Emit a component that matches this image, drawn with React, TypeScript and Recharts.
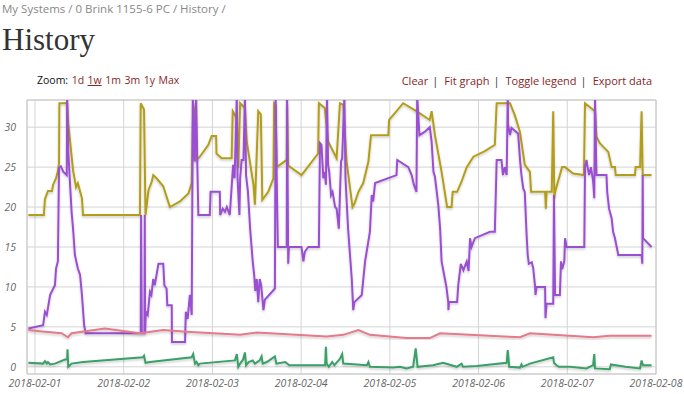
import { CartesianGrid, Line, LineChart, ReferenceArea, XAxis, YAxis } from 'recharts'

// hours since 2018-02-01 00:00, value
const supplyTemp: [number, number][] = [
  [-1.8, 19], [2.4, 19], [2.7, 21], [3.5, 22], [4.6, 22], [4.9, 22.8], [5.7, 23.6], [6.2, 24.5], [6.5, 25.5],
  [6.6, 33], [8.7, 33], [9.0, 30.5], [10.3, 24.6], [11.1, 22.5], [11.6, 23], [12.7, 21.1], [13.0, 19],
  [28.4, 19], [28.6, 33], [29.5, 32.2], [29.9, 19], [30.7, 22.1], [31.6, 23.2], [32.0, 24], [32.9, 23.6],
  [34.7, 22.6], [36.5, 20], [39.2, 20.7], [41.5, 21.7], [42.4, 23], [42.8, 33], [43.3, 31.3], [43.7, 25.9],
  [44.6, 26.3], [46.9, 27.8], [47.8, 28.9], [49.0, 28.9], [49.1, 26.7], [50.5, 26.1], [53.2, 26.1],
  [53.5, 32], [54.6, 31.1], [55.0, 24.9], [55.5, 33], [56.8, 32.4], [57.3, 28.2], [59.1, 22.8], [59.5, 20.3],
  [60.4, 32], [61.1, 31.6], [61.5, 20.9], [63.1, 21.9], [64.5, 23.6], [64.7, 33], [65.1, 32.8], [65.4, 25],
  [68.1, 25.9], [68.2, 33], [68.5, 25.2], [72.1, 24], [76.6, 26.7], [76.8, 33], [78.4, 32.4], [79.3, 28.2],
  [81.6, 26.1], [82.5, 33], [83.4, 32.8], [84.3, 25.7], [85.9, 20], [86.4, 20.4], [87.5, 21.9], [88.8, 23],
  [90.2, 25.7], [90.9, 29], [95.6, 29], [95.8, 30.9], [99.6, 33], [103.2, 32], [106.8, 30.9], [107.3, 32],
  [108.2, 29], [110.0, 24.4], [111.5, 20], [112.7, 20], [113.0, 21.9], [114.2, 21.9], [115.4, 23.2],
  [116.8, 25], [118.6, 26.3], [121.7, 27], [124.4, 27.8], [124.9, 33], [128.5, 33], [129.8, 31.5],
  [131.2, 29.4], [132.5, 25.3], [133.9, 24.4], [134.2, 21.9], [138.0, 21.9], [138.2, 19.8], [138.4, 21.9],
  [139.8, 21.9], [140.2, 32], [140.5, 21.1], [140.7, 21.9], [142.6, 25], [143.4, 25], [145.6, 24.2],
  [148.5, 24], [148.8, 33], [151.5, 32], [151.9, 28.8], [152.8, 28], [155.1, 26.9], [156.0, 25], [156.9, 25],
  [157.1, 24], [162.3, 24], [162.5, 25], [163.7, 25], [164.1, 32], [164.4, 24], [166.8, 24],
]

const roomTemp: [number, number][] = [
  [-1.8, 4.8], [2.2, 5.2], [2.7, 6.9], [3.2, 6.5], [4.1, 9], [4.5, 9.4], [5.4, 10.2], [5.7, 12.3], [6.2, 13.2],
  [6.5, 24.9], [7.0, 25.1], [7.7, 24.4], [8.6, 24], [8.7, 34], [9.0, 27], [9.9, 19.4], [10.3, 17.3], [10.8, 14],
  [11.6, 12.3], [12.2, 11.5], [12.7, 9], [13.3, 5.2], [13.7, 4.2], [28.6, 4.2], [28.7, 19], [28.9, 4.2],
  [29.6, 4.2], [29.7, 19], [29.8, 4.2], [30.0, 6.9], [30.5, 6.5], [31.1, 9.4], [31.5, 9], [32.0, 11],
  [32.4, 10.2], [33.4, 12.9], [34.7, 12.9], [35.0, 10.2], [35.6, 9.8], [35.8, 7.7], [37.0, 7.7], [37.05, 3.1],
  [40.6, 3.1], [40.8, 6.9], [41.3, 6], [41.9, 9], [42.4, 6.5], [42.7, 34], [43.2, 25.7], [43.6, 34],
  [43.9, 25.7], [44.2, 19], [47.3, 19], [47.5, 21.9], [50.0, 21.9], [50.1, 19], [50.8, 19.8], [51.4, 19.4],
  [51.9, 20], [52.7, 19], [53.6, 25.3], [54.0, 23.6], [54.6, 34], [54.8, 23.6], [55.3, 19], [55.5, 23.6],
  [55.9, 25.9], [56.4, 25.9], [56.8, 34], [57.1, 24], [57.6, 22], [58.2, 17.3], [58.9, 13.2], [59.3, 11.5],
  [59.6, 9.5], [60.0, 11], [60.4, 8.1], [60.8, 11], [61.2, 10.2], [61.8, 7.1], [62.2, 8.4], [64.9, 9.8],
  [65.1, 34], [65.4, 23.6], [65.7, 15], [68.1, 15], [68.2, 34], [68.5, 12.9], [68.7, 15], [72.1, 15],
  [72.6, 13.2], [73.0, 14.4], [73.9, 15], [76.8, 15], [77.1, 28], [77.5, 27.8], [78.0, 23.6], [78.4, 24.4],
  [78.7, 22.8], [79.0, 34], [79.3, 25.3], [79.6, 24.4], [80.1, 21.5], [80.5, 21.9], [81.2, 20], [81.6, 19.8],
  [82.2, 17.3], [82.8, 25.7], [83.1, 26.1], [83.7, 34], [84.0, 23.6], [84.7, 17.3], [85.7, 11], [86.1, 7.1],
  [86.4, 8.1], [88.4, 9], [89.3, 13.2], [90.6, 16.9], [91.1, 21.5], [91.5, 20.7], [92.0, 23], [97.8, 24],
  [98.0, 25.9], [101.0, 25], [101.9, 24], [102.5, 22.8], [103.2, 21.9], [103.4, 34], [104.0, 29],
  [105.4, 29.4], [106.8, 30], [107.3, 28.2], [107.8, 24.4], [108.2, 23.8], [109.1, 20.3], [109.6, 17.3],
  [110.0, 13.2], [110.9, 11], [111.3, 10], [111.8, 8.1], [111.85, 7.1], [112.0, 8.1], [114.2, 8.1],
  [114.5, 10.2], [115.2, 12.9], [115.9, 12.1], [116.8, 13.2], [117.3, 12], [117.7, 16.1], [118.1, 15],
  [119.0, 16.1], [123.1, 16.9], [124.4, 16.9], [124.9, 25.9], [126.2, 25.9], [126.6, 24], [127.1, 25],
  [127.6, 24], [127.9, 34], [128.0, 30.3], [128.5, 29], [128.9, 29.9], [130.7, 29.2], [131.2, 26],
  [131.6, 24], [132.1, 22.3], [132.5, 21.9], [133.0, 16.5], [133.3, 14], [133.6, 12.9], [134.4, 13.1],
  [134.8, 12.3], [135.3, 10], [135.4, 9], [135.7, 10], [138.0, 10], [138.1, 6.1], [138.4, 7.9], [140.2, 7.9],
  [140.4, 21.5], [140.7, 9], [142.0, 9], [142.3, 13.2], [142.6, 12.2], [143.2, 13.2], [143.4, 16.1],
  [143.8, 15], [148.6, 15], [148.8, 25], [149.2, 25.9], [149.5, 25], [149.9, 24], [150.4, 25], [151.0, 23.2],
  [151.3, 21.1], [151.5, 34], [151.9, 24], [154.6, 24], [154.8, 21.9], [155.3, 19.8], [156.0, 18.6],
  [156.4, 16.9], [156.9, 16.1], [157.8, 14], [164.1, 14], [164.3, 12.9], [164.4, 24], [164.5, 16.1],
  [166.8, 15],
]

const outdoorTemp: [number, number][] = [
  [-1.8, 4.6], [2.7, 4.4], [7.2, 4.2], [8.9, 3.7], [9.9, 4.2], [18.9, 4.8], [28.4, 4.2], [34.7, 4.6],
  [41.0, 4.4], [55.5, 4.0], [60.0, 4.3], [78.9, 3.8], [83.4, 4.0], [87.5, 4.6], [90.6, 4.0], [100.5, 3.6],
  [106.8, 3.6], [109.6, 4.2], [131.2, 3.7], [133.9, 4.2], [151.0, 3.7], [155.5, 3.9], [166.8, 3.9],
]

const fanLevel: [number, number][] = [
  [-1.8, 0.5], [2.2, 0.4], [2.7, 0.7], [3.2, 0.4], [3.5, 0.6], [4.1, 0.3], [5.4, 0.4], [8.1, 0.9], [8.7, 0.9],
  [8.8, 2.2], [9.0, 0.0], [9.9, 0.4], [13.0, 0.6], [29.2, 1.2], [29.5, 1.4], [29.9, 0.5], [31.1, 0.6],
  [42.4, 1.2], [42.8, 1.6], [43.3, 0.4], [43.7, 0.6], [44.2, 0.2], [44.6, 0.4], [54.1, 0.8], [54.6, 1.6],
  [55.0, 0.0], [55.5, 0.4], [56.3, 0.9], [56.8, 1.8], [57.1, 0.2], [57.8, 0.6], [58.9, 0.8], [59.5, 0.4],
  [60.8, 0.8], [61.3, 1.3], [61.6, 0.4], [62.7, 0.6], [64.9, 1.3], [65.3, 0.4], [67.7, 0.6], [68.8, 0.2],
  [78.5, 0.2], [78.7, 2.5], [78.9, 0.4], [79.5, 0.0], [80.4, 0.6], [81.0, 0.2], [82.5, 1.0], [83.1, 1.6],
  [83.4, 0.4], [89.8, 0.2], [90.2, 0.6], [90.6, 0.0], [96.9, -0.1], [98.7, 0.0], [100.5, -0.2], [102.3, 0.0],
  [103.0, 2.3], [103.5, 0.0], [107.7, 0.2], [110.4, 0.5], [114.1, 0.0], [115.4, 0.4], [115.8, 0.0],
  [119.5, 0.1], [127.6, 0.5], [127.9, 2.1], [128.3, 0.0], [131.2, -0.1], [131.6, 0.3], [131.9, 0.0],
  [133.9, 0.4], [140.2, 1.2], [140.4, 0.5], [141.1, 0.2], [141.7, 0.0], [144.7, 0.0], [149.2, -0.2],
  [151.0, 0.2], [151.3, 1.6], [151.5, -0.2], [155.5, -0.3], [155.8, 0.3], [159.7, 0.0], [163.7, -0.2],
  [164.1, 0.8], [164.5, 0.2], [166.8, 0.2],
]

const dayTicks = [0, 24, 48, 72, 96, 120, 144, 168]
const dayLabels = ['2018-02-01', '2018-02-02', '2018-02-03', '2018-02-04', '2018-02-05', '2018-02-06', '2018-02-07', '2018-02-08']
const valueTicks = [0, 5, 10, 15, 20, 25, 30]

const zoomLinks = ['1d', '1w', '1m', '3m', '1y', 'Max']
const actionLinks = ['Clear', 'Fit graph', 'Toggle legend', 'Export data']

const series = [
  { name: 'supply', points: supplyTemp, color: '#b39e1a' },
  { name: 'room', points: roomTemp, color: '#9a4fd3' },
  { name: 'outdoor', points: outdoorTemp, color: '#e47a8a' },
  { name: 'fan', points: fanLevel, color: '#3a9f68' },
]

const X_MIN = -2.16
const X_MAX = 168
const Y_MIN = -0.9
const Y_MAX = 33.4

const sans = '"Open Sans", sans-serif'
const linkColor = '#8a2525'
const tickStyle = { fontFamily: sans, fontSize: 10.5, fontStyle: 'italic', fill: '#666' }

function toRows(points: [number, number][]) {
  return points.map(([t, v]) => ({ t, v }))
}

export default function App() {
  return (
    <div style={{ position: 'absolute', left: 0, top: 0, width: 684, height: 394, background: '#fff', overflow: 'hidden' }}>
      <div style={{ position: 'absolute', left: 2, top: 1, fontFamily: sans, fontSize: 11.5, color: '#888', whiteSpace: 'pre' }}>
        My Systems / 0 Brink 1155-6 PC / History /
      </div>
      <div style={{ position: 'absolute', left: 2, top: 20, fontFamily: '"Liberation Serif", serif', fontSize: 31, color: '#333', lineHeight: '40px' }}>
        History
      </div>
      <div style={{ position: 'absolute', left: 37, top: 73, fontFamily: sans, fontSize: 10.5, color: '#111', whiteSpace: 'pre' }}>
        Zoom:
        {zoomLinks.map((z) => (
          <span key={z} style={{ color: linkColor, marginLeft: 3.5, textDecoration: z === '1w' ? 'underline' : 'none' }}>
            {z}
          </span>
        ))}
      </div>
      <div style={{ position: 'absolute', right: 32, top: 73, fontFamily: sans, fontSize: 11, color: '#333', whiteSpace: 'pre' }}>
        {actionLinks.map((a, i) => (
          <span key={a}>
            <span style={{ color: linkColor }}>{a}</span>
            {i < actionLinks.length - 1 ? <span style={{ margin: '0 6px 0 4px' }}>|</span> : null}
          </span>
        ))}
      </div>
      <div style={{ position: 'absolute', left: 0, top: 0 }}>
        <LineChart width={684} height={394} margin={{ top: 100, right: 28, bottom: 0, left: 0 }}>
          <defs>
            <filter id="lineShadow" x="-5%" y="-5%" width="110%" height="120%">
              <feDropShadow dx="0" dy="1.5" stdDeviation="1" floodColor="#000" floodOpacity="0.22" />
            </filter>
          </defs>
          <CartesianGrid stroke="#d4d4d4" strokeWidth={1} />
          <XAxis
            dataKey="t"
            type="number"
            domain={[X_MIN, X_MAX]}
            ticks={dayTicks}
            tickFormatter={(t: number) => dayLabels[dayTicks.indexOf(t)] ?? ''}
            allowDataOverflow
            axisLine={false}
            tickLine={false}
            tickSize={0}
            tickMargin={6}
            height={20}
            tick={tickStyle}
            interval={0}
          />
          <YAxis
            type="number"
            domain={[Y_MIN, Y_MAX]}
            ticks={valueTicks}
            allowDataOverflow
            axisLine={false}
            tickLine={false}
            tickSize={0}
            tickMargin={11}
            width={27}
            tick={tickStyle}
            interval={0}
          />
          <ReferenceArea x1={X_MIN} x2={X_MAX} y1={Y_MIN} y2={Y_MAX} fill="none" stroke="#c8c8c8" strokeWidth={1} />
          {series.map((s) => (
            <Line
              key={s.name}
              data={toRows(s.points)}
              dataKey="v"
              type="linear"
              stroke={s.color}
              strokeWidth={2}
              filter="url(#lineShadow)"
              dot={false}
              activeDot={false}
              isAnimationActive={false}
            />
          ))}
        </LineChart>
      </div>
    </div>
  )
}
